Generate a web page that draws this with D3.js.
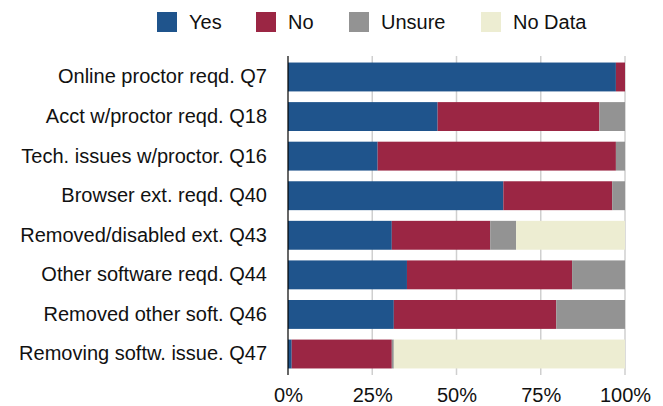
<!DOCTYPE html>
<html>
<head>
<meta charset="utf-8">
<script src="https://cdn.jsdelivr.net/npm/d3@7"></script>
<style>
  html, body { margin: 0; padding: 0; background: #fff; }
  svg { display: block; font-family: "Liberation Sans", Arial, Helvetica, sans-serif; }
</style>
</head>
<body>
<svg id="chart" width="663" height="406"></svg>
<script>
const categories = [
  "Online proctor reqd. Q7",
  "Acct w/proctor reqd. Q18",
  "Tech. issues w/proctor. Q16",
  "Browser ext. reqd. Q40",
  "Removed/disabled ext. Q43",
  "Other software reqd. Q44",
  "Removed other soft. Q46",
  "Removing softw. issue. Q47"
];
const seriesNames = ["Yes", "No", "Unsure", "No Data"];
const yesValues    = [97.3, 44.4, 26.6, 63.9, 30.8, 35.3, 31.4, 1.1];
const noValues     = [2.7, 48.0, 70.7, 32.3, 29.2, 49.0, 48.2, 29.7];
const unsureValues = [0.0, 7.6, 2.7, 3.8, 7.7, 15.7, 20.4, 0.6];
const noDataValues = [0.0, 0.0, 0.0, 0.0, 32.3, 0.0, 0.0, 68.6];
const tickValues = [0, 25, 50, 75, 100];
const tickLabels = ["0%", "25%", "50%", "75%", "100%"];
const colors = ["#1f548c", "#9b2644", "#939393", "#ededd2"];

const rows = categories.map((c, i) => ({
  cat: c,
  "Yes": yesValues[i],
  "No": noValues[i],
  "Unsure": unsureValues[i],
  "No Data": noDataValues[i]
}));

const svg = d3.select("#chart");
const plotLeft = 288, plotRight = 625, plotTop = 56, plotBottom = 375;
const fontSize = 20;

const x = d3.scaleLinear().domain([0, 100]).range([plotLeft, plotRight]);
const y = d3.scaleBand().domain(categories).range([plotTop, plotBottom])
  .paddingInner(0.27).paddingOuter(0.165);
const color = d3.scaleOrdinal().domain(seriesNames).range(colors);

// gridlines
svg.append("g").selectAll("line")
  .data(tickValues.filter(d => d > 0))
  .join("line")
  .attr("x1", d => x(d)).attr("x2", d => x(d))
  .attr("y1", plotTop).attr("y2", plotBottom)
  .attr("stroke", "#cfcfcf").attr("stroke-width", 1.5);

// stacked bars
const stack = d3.stack().keys(seriesNames)(rows);
svg.append("g").selectAll("g")
  .data(stack)
  .join("g")
  .attr("fill", d => color(d.key))
  .selectAll("rect")
  .data(d => d)
  .join("rect")
  .attr("x", d => x(d[0]))
  .attr("width", d => Math.max(0, x(d[1]) - x(d[0])))
  .attr("y", d => y(d.data.cat))
  .attr("height", y.bandwidth());

// zero axis line
svg.append("line")
  .attr("x1", x(0)).attr("x2", x(0))
  .attr("y1", plotTop).attr("y2", plotBottom)
  .attr("stroke", "#000").attr("stroke-width", 1.2);

// x axis labels
const xAxis = d3.axisBottom(x).tickValues(tickValues)
  .tickFormat((d, i) => tickLabels[i]).tickSize(0).tickPadding(0);
const gx = svg.append("g").attr("transform", `translate(0,${plotBottom})`).call(xAxis);
gx.select(".domain").remove();
gx.selectAll("text")
  .attr("dy", null)
  .attr("y", 26.5)
  .attr("font-size", fontSize)
  .attr("font-family", "Liberation Sans, Arial, sans-serif")
  .attr("fill", "#111");

// y axis labels
const yAxis = d3.axisLeft(y).tickSize(0).tickPadding(0);
const gy = svg.append("g").attr("transform", `translate(${plotLeft - 21},0)`).call(yAxis);
gy.select(".domain").remove();
gy.selectAll("text")
  .attr("font-size", fontSize)
  .attr("font-family", "Liberation Sans, Arial, sans-serif")
  .attr("fill", "#111");

// legend
const legendX = [157, 256, 349, 481];
const lg = svg.append("g").selectAll("g")
  .data(seriesNames)
  .join("g")
  .attr("transform", (d, i) => `translate(${legendX[i]},12)`);
lg.append("rect").attr("width", 20).attr("height", 20).attr("fill", d => color(d));
lg.append("text").attr("x", 32).attr("y", 10).attr("dy", "0.35em")
  .attr("font-size", fontSize).attr("fill", "#111").text(d => d);
</script>
</body>
</html>
